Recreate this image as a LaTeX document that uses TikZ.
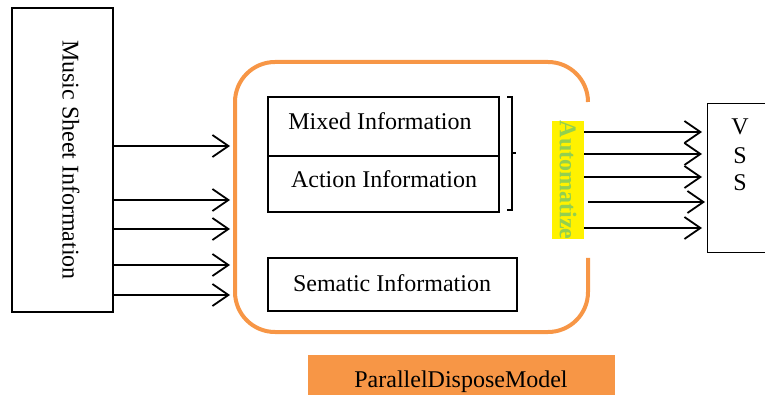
\documentclass[tikz,border=0pt]{standalone}
\usepackage{fontspec}
\setmainfont{Liberation Serif}
\usetikzlibrary{arrows.meta}
\definecolor{frameorange}{HTML}{F79646}
\definecolor{autogreen}{HTML}{92D050}
\begin{document}
\begin{tikzpicture}[x=1pt,y=-1pt,
  box/.style={draw, line width=1.3pt, inner sep=0pt},
  lbl/.style={font=\fontsize{24}{28}\selectfont, inner sep=0pt},
  arr/.style={line width=1.8pt, -{Straight Barb[length=16pt,width=22pt]}},
]
\clip (0,0) rectangle (765,395);
% left box
\node[box, minimum width=101pt, minimum height=304pt] (music) at (62.5,160) {};
\node[lbl, rotate=-90] (musictext) at (71,160) {Music Sheet Information};
% orange frame
\draw[frameorange, line width=4pt, rounded corners=40pt] (588,102) -- (588,62) -- (235,62) -- (235,332) -- (588,332) -- (588,258);
\coordinate (fin) at (230,200);
% inner boxes
\node[box, minimum width=231pt, minimum height=59pt] (mixed) at (383.5,126.5) {};
\node[box, minimum width=231pt, minimum height=56pt] (action) at (383.5,184) {};
\node[lbl, anchor=base] (mixedtext) at (380,130) {Mixed Information};
\node[lbl, anchor=base] (actiontext) at (384,188) {Action Information};
\node[box, minimum width=249pt, minimum height=53pt] (sematic) at (392.5,284.5) {};
\node[lbl, anchor=base] (sematictext) at (392,291) {Sematic Information};
% bracket
\draw[line width=1.3pt] (507,97) -- (512,97) -- (512,210) -- (507,210) (512,153) -- (516,153);
% automatize
\node[fill=yellow, rotate=-90, minimum width=118pt, minimum height=32pt, inner sep=0pt, text=autogreen, font=\bfseries\fontsize{24}{28}\selectfont] (auto) at (568,180) {Automatize};
% VSS box
\node[box, minimum width=70pt, minimum height=149pt, anchor=north west] (vss) at (707,103) {};
\node[lbl, anchor=base] (v) at (740,135) {V};
\node[lbl, anchor=base] (s1) at (740,164) {S};
\node[lbl, anchor=base] (s2) at (740,191) {S};
\coordinate (vin) at (702,180);
% arrows left
\foreach \y in {146,200,229,265,295}
  \draw[arr] (music.east |- 0,\y) -- (fin |- 0,\y);
% arrows right
\foreach \y in {132,154,177,228}
  \draw[arr] (auto.north |- 0,\y) -- (vin |- 0,\y);
\draw[arr] ([xshift=4pt]auto.north |- 0,202) -- ([xshift=3pt]vin |- 0,202);
% model label
\node[fill=frameorange, minimum width=307pt, minimum height=45pt, anchor=north west, inner sep=0pt] (pdm) at (308,355) {};
\node[lbl, anchor=base] (pdmtext) at (461,387) {ParallelDisposeModel};
\end{tikzpicture}
\end{document}
